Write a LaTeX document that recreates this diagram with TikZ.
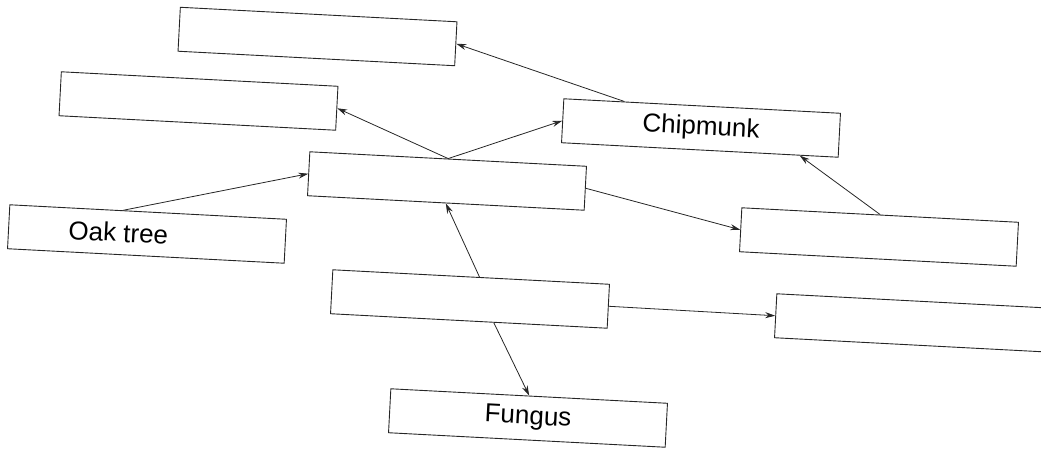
\documentclass[tikz,border=0pt]{standalone}
\usepackage{fontspec}
\setmainfont{Liberation Sans}
\usetikzlibrary{arrows.meta,calc}
\begin{document}
\begin{tikzpicture}[x=1pt,y=-1pt,
  box/.style={draw=black!85,line width=0.9pt,rotate=-3,minimum width=277pt,minimum height=44pt,inner sep=0pt,font=\fontsize{26}{30}\selectfont},
  conn/.style={draw=black!85,line width=0.8pt,-{Stealth[length=10pt,width=6pt]}}]
\useasboundingbox (0,0) rectangle (1041,448);
\node[box] (A) at (317.5,36.5) {};
\node[box] (B) at (198.5,101) {};
\node[box] (C) at (447,181) {};
\node[box] (D) at (701,128) {Chipmunk};
\node[box] (E) at (147,234) {\makebox[277pt][l]{\hspace{60pt}Oak tree}};
\node[box] (F) at (879,237) {};
\node[box] (G) at (470,299) {};
\node[box] (H) at (914,323) {};
\node[box] (I) at (528,418) {Fungus};
\draw[conn] ($(D.north west)!0.22!(D.north east)$) -- (A.east);
\draw[conn] (C.north) -- (B.east);
\draw[conn] (C.north) -- (D.west);
\draw[conn] ($(E.north west)!0.41!(E.north east)$) -- (C.west);
\draw[conn] (C.east) -- (F.west);
\draw[conn] (F.north) -- ($(D.south west)!0.86!(D.south east)$);
\draw[conn] ($(G.north west)!0.53!(G.north east)$) -- (C.south);
\draw[conn] (G.east) -- (H.west);
\draw[conn] ($(G.south west)!0.59!(G.south east)$) -- (I.north);
\end{tikzpicture}
\end{document}
